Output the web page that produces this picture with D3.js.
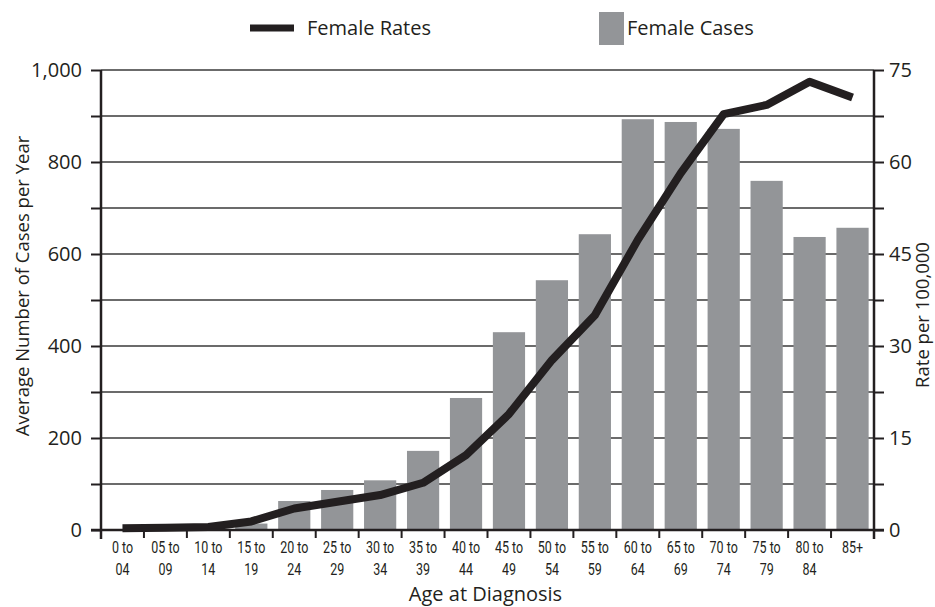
<!DOCTYPE html>
<html lang="en">
<head>
    <meta charset="UTF-8">
    <title>Female Cases and Rates by Age</title>
    <script src="https://d3js.org/d3.v7.min.js"></script>
    <style>
        html, body { margin: 0; background: #fff; overflow: hidden; }
        svg { display: block; }
        text { font-family: "Open Sans", "Noto Sans", sans-serif; fill: #231f20; }
        text.xlab { font-family: Roboto, "Noto Sans", sans-serif; font-size: 16px; }
    </style>
</head>
<body>
    <svg id="svg"></svg>
    <script>
        const ageTop = ['0 to', '05 to', '10 to', '15 to', '20 to', '25 to', '30 to', '35 to', '40 to',
            '45 to', '50 to', '55 to', '60 to', '65 to', '70 to', '75 to', '80 to', '85+'];
        const ageBottom = ['04', '09', '14', '19', '24', '29', '34', '39', '44',
            '49', '54', '59', '64', '69', '74', '79', '84', ''];
        const cases = [2, 3, 5, 14, 63, 87, 108, 172, 287, 430, 543, 643, 893, 887, 872, 759, 637, 657];
        const rates = [0.3, 0.35, 0.5, 1.4, 3.5, 4.6, 5.7, 7.7, 12.2, 18.9, 27.7, 35.0, 47.3, 58.2, 67.8, 69.3, 73.1, 70.5];
        const caseTicks = [0, 200, 400, 600, 800, 1000];
        const rateTicks = [0, 15, 30, 45, 60, 75];

        const width = 935, height = 607;
        const margin = { top: 70, left: 101, bottom: 77, right: 61 };
        const innerWidth = width - margin.left - margin.right;
        const innerHeight = height - margin.top - margin.bottom;

        const svg = d3.select('#svg').attr('width', width).attr('height', height);
        const g = svg.append('g').attr('transform', `translate(${margin.left}, ${margin.top})`);

        const x = d3.scaleBand().domain(d3.range(ageTop.length)).range([0, innerWidth])
            .paddingInner(0.25).paddingOuter(0.125);
        const yL = d3.scaleLinear().domain([0, 1000]).range([innerHeight, 0]);
        const yR = d3.scaleLinear().domain([0, 75]).range([innerHeight, 0]);
        const cx = i => x(i) + x.bandwidth() / 2;

        // gridlines every 100 cases
        g.selectAll('.grid').data(d3.range(100, 1001, 100)).join('line')
            .attr('x1', 0).attr('x2', innerWidth)
            .attr('y1', d => yL(d)).attr('y2', d => yL(d))
            .attr('stroke', '#3a3a3a').attr('stroke-width', 1.3);

        // bars
        g.selectAll('rect').data(cases).join('rect')
            .attr('x', (d, i) => x(i))
            .attr('y', d => yL(d))
            .attr('width', x.bandwidth())
            .attr('height', d => innerHeight - yL(d))
            .attr('fill', '#939598');

        // rate line
        const line = d3.line()
            .x((d, i) => cx(i))
            .y(d => yR(d));
        g.append('path').datum(rates)
            .attr('d', line)
            .attr('fill', 'none')
            .attr('stroke', '#231f20')
            .attr('stroke-width', 8)
            .attr('stroke-linejoin', 'round');

        // left axis: minor ticks every 100, labels every 200
        const leftAx = g.append('g')
            .call(d3.axisLeft(yL).tickValues(d3.range(0, 1001, 100)).tickSize(10).tickPadding(9)
                .tickFormat(d => d3.format(',')(d)));
        leftAx.select('.domain').remove();
        leftAx.selectAll('.tick').filter(d => !caseTicks.includes(d)).select('text').remove();
        leftAx.selectAll('line').attr('stroke', '#231f20').attr('stroke-width', 2);
        leftAx.selectAll('text').style('font-size', '20px').attr('fill', '#231f20');
        g.append('line').attr('x1', 0).attr('x2', 0).attr('y1', 0).attr('y2', innerHeight + 9)
            .attr('stroke', '#231f20').attr('stroke-width', 2.5);

        // right axis
        const rightAx = g.append('g').attr('transform', `translate(${innerWidth},0)`)
            .call(d3.axisRight(yR).tickValues(d3.range(0, 76, 7.5)).tickSize(10).tickPadding(5));
        rightAx.select('.domain').remove();
        rightAx.selectAll('.tick').filter(d => !rateTicks.includes(d)).select('text').remove();
        rightAx.selectAll('line').attr('stroke', '#231f20').attr('stroke-width', 2);
        rightAx.selectAll('text').style('font-size', '20px').attr('fill', '#231f20');
        g.append('line').attr('x1', innerWidth).attr('x2', innerWidth).attr('y1', 0).attr('y2', innerHeight + 9)
            .attr('stroke', '#231f20').attr('stroke-width', 2.5);

        // x axis baseline and separators
        g.append('line').attr('x1', -10).attr('x2', innerWidth + 10)
            .attr('y1', innerHeight).attr('y2', innerHeight)
            .attr('stroke', '#231f20').attr('stroke-width', 2.5);
        g.selectAll('.sep').data(d3.range(1, ageTop.length)).join('line')
            .attr('x1', d => d * x.step()).attr('x2', d => d * x.step())
            .attr('y1', innerHeight).attr('y2', innerHeight + 8)
            .attr('stroke', '#231f20').attr('stroke-width', 2);

        // condensed two-line category labels
        g.selectAll('.xtop').data(ageTop).join('text')
            .attr('class', 'xlab xtop')
            .attr('text-anchor', 'middle')
            .attr('transform', (d, i) => `translate(${cx(i)},${innerHeight + 23}) scale(0.78,1)`)
            .text(d => d);
        g.selectAll('.xbot').data(ageBottom.filter(d => d)).join('text')
            .attr('class', 'xlab xbot')
            .attr('text-anchor', 'middle')
            .attr('transform', (d, i) => `translate(${cx(i)},${innerHeight + 45}) scale(0.78,1)`)
            .text(d => d);

        // axis titles
        svg.append('text').attr('x', margin.left + innerWidth / 2 - 2).attr('y', 601)
            .attr('text-anchor', 'middle').style('font-size', '20px').text('Age at Diagnosis');
        svg.append('text').attr('transform', `translate(29,${margin.top + innerHeight / 2 - 14}) rotate(-90)`)
            .attr('text-anchor', 'middle').style('font-size', '18.5px').text('Average Number of Cases per Year');
        svg.append('text').attr('transform', `translate(929,${margin.top + innerHeight / 2 + 15}) rotate(-90)`)
            .attr('text-anchor', 'middle').style('font-size', '18.5px').text('Rate per 100,000');

        // legend
        const lg = svg.append('g');
        lg.append('line').attr('x1', 250).attr('x2', 294).attr('y1', 28).attr('y2', 28)
            .attr('stroke', '#231f20').attr('stroke-width', 7);
        lg.append('text').attr('x', 307).attr('y', 35).style('font-size', '20px').text('Female Rates');
        lg.append('rect').attr('x', 599).attr('y', 12).attr('width', 25).attr('height', 33).attr('fill', '#939598');
        lg.append('text').attr('x', 627).attr('y', 35).style('font-size', '20px').text('Female Cases');
    </script>
</body>
</html>
